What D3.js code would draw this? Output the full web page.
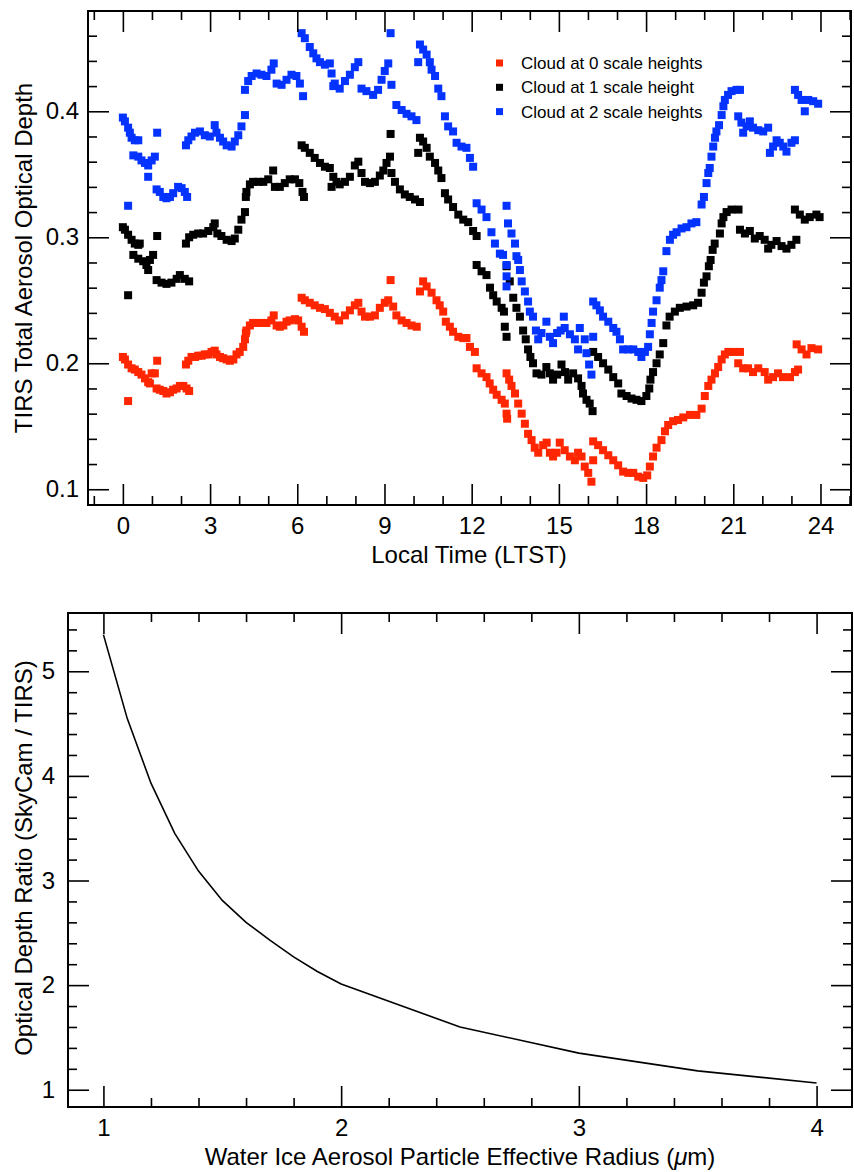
<!DOCTYPE html>
<html>
<head>
<meta charset="utf-8">
<script src="https://cdn.jsdelivr.net/npm/d3@7"></script>
<style>
  body { margin: 0; background: #fff; }
  svg { display: block; font-family: "Liberation Sans", Arial, Helvetica, sans-serif; }
</style>
</head>
<body>
<svg id="chart" width="854" height="1172"></svg>
<script>
// [local time (h), TIRS optical depth]
const cloud0 = [
  [0.00,0.205],[0.07,0.203],[0.18,0.199],[0.18,0.170],[0.30,0.196],[0.41,0.195],[0.53,0.193],[0.64,0.191],
  [0.76,0.188],[0.87,0.185],[0.93,0.184],[0.99,0.192],[1.10,0.192],[1.18,0.202],[1.16,0.180],[1.27,0.179],
  [1.39,0.178],[1.50,0.176],[1.62,0.177],[1.73,0.179],[1.85,0.180],[1.96,0.182],[2.08,0.182],[2.19,0.180],
  [2.28,0.178],
  [2.17,0.199],[2.25,0.202],[2.36,0.205],[2.48,0.205],[2.59,0.206],[2.71,0.206],[2.82,0.207],[2.94,0.207],
  [3.05,0.209],[3.16,0.210],[3.22,0.207],[3.34,0.205],[3.45,0.204],[3.57,0.203],[3.68,0.202],[3.80,0.203],
  [3.91,0.207],[4.02,0.209],[4.14,0.213],[4.20,0.219],[4.23,0.224],[4.25,0.226],[4.37,0.230],[4.48,0.232],
  [4.60,0.232],[4.77,0.232],[4.94,0.232],[5.11,0.234],[5.19,0.238],[5.29,0.230],[5.40,0.229],[5.52,0.230],
  [5.63,0.233],[5.74,0.234],[5.92,0.235],[6.03,0.234],[6.15,0.229],[6.23,0.225],
  [6.15,0.252],[6.26,0.250],[6.43,0.248],[6.60,0.246],[6.78,0.244],[6.95,0.243],[7.12,0.240],[7.29,0.237],
  [7.44,0.234],[7.64,0.238],[7.81,0.242],[7.98,0.246],[8.10,0.248],[8.21,0.241],[8.33,0.237],[8.50,0.237],
  [8.67,0.238],[8.84,0.244],[9.01,0.248],[9.13,0.250],[9.21,0.266],[9.30,0.245],[9.41,0.238],[9.59,0.234],
  [9.76,0.232],[9.93,0.230],[10.11,0.229],
  [10.22,0.257],[10.33,0.265],[10.45,0.261],[10.62,0.256],[10.79,0.250],[10.90,0.246],[11.02,0.241],[11.11,0.233],
  [11.25,0.229],[11.36,0.225],[11.54,0.221],[11.71,0.220],[11.82,0.220],[11.94,0.213],[12.11,0.209],
  [12.17,0.196],[12.34,0.192],[12.51,0.189],[12.62,0.184],[12.74,0.179],[12.86,0.175],[13.03,0.171],[13.14,0.168],
  [13.20,0.160],[13.22,0.156],
  [13.20,0.192],[13.29,0.187],[13.37,0.182],[13.49,0.176],[13.60,0.168],[13.72,0.160],[13.83,0.152],[13.94,0.144],
  [14.06,0.139],[14.17,0.133],[14.29,0.129],[14.46,0.135],[14.58,0.137],[14.69,0.129],[14.80,0.126],[14.92,0.129],
  [15.03,0.137],[15.20,0.131],[15.38,0.126],[15.55,0.123],[15.66,0.129],[15.78,0.126],[15.89,0.118],[16.01,0.113],
  [16.12,0.106],[16.18,0.123],
  [16.18,0.138],[16.35,0.135],[16.52,0.131],[16.70,0.127],[16.87,0.123],[17.04,0.119],[17.21,0.114],[17.39,0.113],
  [17.56,0.113],[17.73,0.110],[17.90,0.109],[18.04,0.111],[18.13,0.118],[18.24,0.126],[18.36,0.133],[18.53,0.139],
  [18.65,0.146],[18.76,0.151],[18.93,0.154],[19.10,0.155],[19.28,0.157],[19.51,0.159],[19.73,0.159],[19.91,0.164],
  [20.02,0.174],[20.14,0.182],[20.25,0.187],[20.37,0.192],[20.48,0.197],[20.60,0.203],[20.71,0.207],[20.83,0.209],
  [21.00,0.209],[21.23,0.209],
  [21.17,0.200],[21.34,0.196],[21.51,0.196],[21.68,0.193],[21.86,0.196],[22.08,0.193],[22.20,0.187],[22.37,0.189],
  [22.54,0.192],[22.71,0.189],[22.95,0.189],[23.12,0.193],[23.23,0.195],
  [23.18,0.215],[23.35,0.211],[23.52,0.207],[23.69,0.212],[23.92,0.211]
];
const cloud1 = [
  [0.00,0.308],[0.07,0.306],[0.18,0.302],[0.18,0.254],[0.30,0.298],[0.41,0.295],[0.53,0.294],[0.58,0.295],
  [0.36,0.286],[0.53,0.283],[0.70,0.281],[0.81,0.278],[0.87,0.274],[0.93,0.282],[1.04,0.286],[1.18,0.301],
  [1.16,0.266],[1.33,0.264],[1.50,0.263],[1.67,0.264],[1.85,0.267],[1.96,0.270],[2.13,0.267],[2.28,0.265],
  [2.17,0.295],[2.28,0.300],[2.42,0.302],[2.59,0.303],[2.76,0.303],[2.94,0.305],[3.11,0.308],[3.16,0.311],
  [3.25,0.303],[3.39,0.301],[3.57,0.298],[3.74,0.297],[3.85,0.299],[3.97,0.306],[4.08,0.314],[4.20,0.320],
  [4.23,0.332],[4.25,0.336],[4.37,0.342],[4.48,0.344],[4.66,0.344],[4.83,0.344],[5.00,0.346],[5.17,0.353],
  [5.23,0.340],[5.40,0.340],[5.57,0.343],[5.74,0.346],[5.92,0.346],[6.07,0.343],[6.18,0.336],[6.23,0.332],
  [6.15,0.373],[6.26,0.371],[6.43,0.367],[6.60,0.363],[6.78,0.359],[6.95,0.356],[7.12,0.355],[7.18,0.340],
  [7.24,0.348],[7.35,0.344],[7.46,0.342],[7.64,0.344],[7.81,0.348],[7.98,0.357],[8.10,0.360],[8.21,0.351],
  [8.33,0.344],[8.50,0.343],[8.67,0.344],[8.84,0.349],[8.96,0.353],[9.07,0.359],[9.19,0.364],[9.21,0.382],
  [9.24,0.351],[9.36,0.344],[9.53,0.338],[9.70,0.334],[9.87,0.332],[10.05,0.330],[10.22,0.328],
  [10.16,0.367],[10.22,0.379],[10.33,0.376],[10.45,0.371],[10.56,0.364],[10.74,0.359],[10.85,0.353],[10.96,0.347],
  [11.08,0.335],[11.19,0.330],[11.36,0.324],[11.54,0.318],[11.71,0.314],[11.88,0.312],[12.05,0.305],[12.17,0.301],
  [12.17,0.278],[12.34,0.273],[12.51,0.270],[12.63,0.260],[12.74,0.254],[12.86,0.249],[13.03,0.244],[13.11,0.241],
  [13.14,0.229],[13.20,0.221],
  [13.20,0.277],[13.31,0.265],[13.43,0.252],[13.54,0.244],[13.66,0.237],[13.77,0.226],[13.86,0.219],[13.94,0.211],
  [14.02,0.205],[14.11,0.200],[14.23,0.192],[14.40,0.191],[14.57,0.197],[14.69,0.192],[14.80,0.187],[14.94,0.191],
  [15.09,0.199],[15.21,0.193],[15.32,0.187],[15.49,0.192],[15.66,0.188],[15.78,0.182],[15.83,0.176],[15.95,0.171],
  [16.06,0.168],[16.16,0.162],
  [16.18,0.209],[16.35,0.205],[16.52,0.200],[16.70,0.195],[16.87,0.189],[17.04,0.184],[17.15,0.176],[17.33,0.174],
  [17.50,0.172],[17.67,0.171],[17.84,0.170],[18.01,0.174],[18.11,0.180],[18.15,0.187],[18.24,0.193],[18.36,0.200],
  [18.47,0.207],[18.59,0.216],[18.70,0.230],[18.81,0.237],[18.99,0.241],[19.16,0.244],[19.39,0.245],[19.62,0.246],
  [19.79,0.248],[19.91,0.256],[19.99,0.264],[20.08,0.269],[20.16,0.277],[20.22,0.282],[20.29,0.290],[20.36,0.295],
  [20.54,0.303],[20.60,0.311],[20.66,0.316],[20.77,0.320],[20.94,0.322],[21.18,0.322],
  [21.23,0.306],[21.40,0.303],[21.57,0.305],[21.74,0.299],[21.91,0.301],[22.08,0.298],[22.20,0.291],[22.31,0.294],
  [22.49,0.297],[22.66,0.293],[22.83,0.291],[23.00,0.294],[23.17,0.298],
  [23.12,0.322],[23.29,0.318],[23.46,0.314],[23.63,0.316],[23.86,0.318],[23.97,0.316]
];
const cloud2 = [
  [0.00,0.395],[0.07,0.392],[0.18,0.387],[0.24,0.383],[0.30,0.379],[0.41,0.377],[0.53,0.377],[0.18,0.325],
  [0.36,0.365],[0.53,0.364],[0.64,0.361],[0.76,0.359],[0.87,0.357],[0.99,0.361],[1.10,0.364],[0.87,0.348],
  [1.18,0.383],[1.16,0.338],[1.27,0.336],[1.39,0.332],[1.50,0.331],[1.62,0.332],[1.73,0.335],[1.90,0.340],
  [2.02,0.339],[2.13,0.336],[2.21,0.332],
  [2.17,0.373],[2.25,0.377],[2.36,0.380],[2.48,0.383],[2.65,0.384],[2.82,0.381],[2.99,0.380],[3.16,0.389],
  [3.22,0.383],[3.34,0.379],[3.45,0.376],[3.57,0.373],[3.74,0.372],[3.85,0.376],[3.97,0.381],[4.08,0.388],
  [4.20,0.397],[4.20,0.417],[4.31,0.424],[4.43,0.428],[4.60,0.430],[4.77,0.429],[4.94,0.428],[5.11,0.433],
  [5.19,0.438],[5.29,0.422],[5.46,0.421],[5.63,0.425],[5.80,0.429],[5.97,0.428],[6.09,0.422],[6.20,0.412],
  [6.15,0.462],[6.26,0.458],[6.43,0.451],[6.55,0.446],[6.66,0.442],[6.78,0.439],[6.95,0.437],[7.12,0.438],
  [7.18,0.430],[7.24,0.420],[7.29,0.422],[7.46,0.418],[7.64,0.424],[7.81,0.429],[7.98,0.435],[8.10,0.439],
  [8.21,0.418],[8.38,0.416],[8.61,0.413],[8.78,0.417],[8.90,0.425],[9.01,0.432],[9.13,0.438],[9.21,0.462],
  [9.24,0.421],[9.41,0.405],[9.59,0.401],[9.76,0.398],[9.93,0.396],[10.10,0.393],
  [10.16,0.439],[10.22,0.453],[10.33,0.449],[10.45,0.445],[10.56,0.439],[10.62,0.433],[10.74,0.428],[10.85,0.418],
  [10.96,0.412],[11.08,0.396],[11.19,0.388],[11.36,0.384],[11.48,0.375],[11.65,0.372],[11.82,0.371],[11.94,0.363],
  [12.05,0.356],
  [12.17,0.327],[12.34,0.322],[12.51,0.316],[12.68,0.304],[12.80,0.295],[12.97,0.287],[13.08,0.286],[13.20,0.278],
  [13.20,0.269],[13.20,0.261],
  [13.20,0.325],[13.25,0.311],[13.37,0.303],[13.49,0.295],[13.54,0.285],[13.60,0.282],[13.66,0.274],[13.72,0.265],
  [13.83,0.257],[13.94,0.249],[14.00,0.241],[14.11,0.237],[14.21,0.226],[14.29,0.219],[14.40,0.224],[14.57,0.233],
  [14.69,0.221],[14.80,0.216],[14.94,0.224],[15.06,0.226],[15.17,0.237],[15.20,0.228],[15.38,0.223],[15.55,0.219],
  [15.66,0.211],[15.72,0.228],[15.89,0.219],[15.95,0.208],[16.04,0.199],[16.12,0.191],[16.18,0.221],
  [16.18,0.249],[16.29,0.246],[16.41,0.242],[16.52,0.237],[16.70,0.233],[16.87,0.228],[16.98,0.225],[17.10,0.219],
  [17.21,0.211],[17.39,0.211],[17.56,0.211],[17.73,0.209],[17.84,0.205],[17.96,0.209],[18.07,0.213],[18.13,0.223],
  [18.19,0.232],[18.24,0.241],[18.36,0.250],[18.47,0.260],[18.53,0.266],[18.59,0.273],[18.70,0.289],[18.82,0.298],
  [18.93,0.302],[19.05,0.304],[19.22,0.307],[19.39,0.308],[19.56,0.311],[19.73,0.312],[19.91,0.326],[19.99,0.332],
  [20.08,0.343],[20.14,0.351],[20.19,0.355],[20.25,0.364],[20.31,0.372],[20.37,0.379],[20.42,0.384],[20.51,0.389],
  [20.60,0.397],[20.66,0.404],[20.71,0.409],[20.82,0.413],[20.94,0.416],[21.11,0.417],[21.23,0.417],
  [21.17,0.396],[21.28,0.391],[21.34,0.383],[21.46,0.388],[21.57,0.392],[21.68,0.387],[21.86,0.385],[22.03,0.384],
  [22.20,0.387],[22.26,0.367],[22.37,0.372],[22.49,0.377],[22.60,0.375],[22.72,0.372],[22.83,0.368],[23.00,0.375],
  [23.12,0.377],
  [23.12,0.417],[23.23,0.413],[23.35,0.409],[23.46,0.400],[23.58,0.409],[23.75,0.408],[23.92,0.406]
];

const seriesNames = ['Cloud at 0 scale heights', 'Cloud at 1 scale height', 'Cloud at 2 scale heights'];
const seriesColors = ['#ff2600', '#000000', '#0433ff'];

const timeTicks = [0, 3, 6, 9, 12, 15, 18, 21, 24];
const depthTicks = [0.1, 0.2, 0.3, 0.4];

// effective radius (um) vs SkyCam/TIRS optical depth ratio
const radius = [1.0, 1.1, 1.2, 1.3, 1.4, 1.5, 1.6, 1.7, 1.8, 1.9, 2.0, 2.5, 3.0, 3.5, 4.0];
const ratio = [5.35, 4.55, 3.93, 3.45, 3.09, 2.81, 2.60, 2.43, 2.27, 2.13, 2.01, 1.60, 1.35, 1.18, 1.065];
const radiusTicks = [1, 2, 3, 4];
const ratioTicks = [1, 2, 3, 4, 5];

const svg = d3.select('#chart');
const majorLen = 21;
const minorLen = 9;
const tickFont = 24;

function frameAxes(g, x, y, o) {
    const [x0, x1] = x.range();
    const [y0, y1] = y.range();

    const axes = [
        { axis: d3.axisBottom(x), at: [0, y0], vals: o.xMajor, len: majorLen, fmt: o.xFmt, pad: o.xPad },
        { axis: d3.axisBottom(x), at: [0, y0], vals: o.xMinor, len: minorLen },
        { axis: d3.axisTop(x), at: [0, y1], vals: o.xMajor, len: majorLen },
        { axis: d3.axisTop(x), at: [0, y1], vals: o.xMinor, len: minorLen },
        { axis: d3.axisLeft(y), at: [x0, 0], vals: o.yMajor, len: majorLen, fmt: o.yFmt, pad: o.yPad },
        { axis: d3.axisLeft(y), at: [x0, 0], vals: o.yMinor, len: minorLen },
        { axis: d3.axisRight(y), at: [x1, 0], vals: o.yMajor, len: majorLen },
        { axis: d3.axisRight(y), at: [x1, 0], vals: o.yMinor, len: minorLen }
    ];

    axes.forEach(a => {
        a.axis.tickValues(a.vals).tickSizeInner(-a.len).tickSizeOuter(0)
            .tickPadding(a.fmt ? a.pad : 0)
            .tickFormat(a.fmt || '');
        const ga = g.append('g')
            .attr('transform', 'translate(' + a.at[0] + ',' + a.at[1] + ')')
            .call(a.axis);
        ga.select('.domain').remove();
        ga.selectAll('line').attr('stroke', '#000').attr('stroke-width', 1.6);
        ga.selectAll('text').attr('fill', '#000').attr('font-size', tickFont);
    });

    g.append('rect')
        .attr('x', x0).attr('y', y1)
        .attr('width', x1 - x0).attr('height', y0 - y1)
        .attr('fill', 'none').attr('stroke', '#000').attr('stroke-width', 2);
}

// ---- top panel: TIRS optical depth vs local time
const xTime = d3.scaleLinear().domain([-1.2, 25.05]).range([88, 851]);
const yDepth = d3.scaleLinear().domain([0.0875, 0.4796]).range([505, 11]);

const gTop = svg.append('g');
const markSize = 8;
[cloud0, cloud1, cloud2].forEach((data, i) => {
    gTop.append('g').selectAll('rect')
        .data(data)
        .enter()
        .append('rect')
        .attr('x', d => xTime(d[0]) - markSize / 2)
        .attr('y', d => yDepth(d[1]) - markSize / 2)
        .attr('width', markSize)
        .attr('height', markSize)
        .attr('fill', seriesColors[i]);
});

frameAxes(gTop, xTime, yDepth, {
    xMajor: timeTicks,
    xMinor: d3.range(-1, 26).filter(h => h % 3 !== 0),
    yMajor: depthTicks,
    yMinor: d3.range(0.12, 0.47, 0.02).filter(v => Math.abs(v * 10 - Math.round(v * 10)) > 0.01),
    xFmt: d3.format('d'),
    yFmt: d3.format('.1f'),
    xPad: 12,
    yPad: 9
});

const legend = gTop.append('g').attr('transform', 'translate(496,63)');
seriesNames.forEach((name, i) => {
    const row = legend.append('g').attr('transform', 'translate(0,' + (i * 24.3) + ')');
    row.append('rect')
        .attr('x', 0).attr('y', -3.5)
        .attr('width', 7).attr('height', 7)
        .attr('fill', seriesColors[i]);
    row.append('text')
        .attr('x', 25).attr('y', 6)
        .attr('font-size', 17)
        .text(name);
});

svg.append('text')
    .attr('x', 469).attr('y', 563)
    .attr('text-anchor', 'middle')
    .attr('font-size', 24)
    .text('Local Time (LTST)');

svg.append('text')
    .attr('transform', 'translate(32,258) rotate(-90)')
    .attr('text-anchor', 'middle')
    .attr('font-size', 24)
    .text('TIRS Total Aerosol Optical Depth');

// ---- bottom panel: optical depth ratio vs particle radius
const xRad = d3.scaleLinear().domain([0.851, 4.149]).range([68, 852]);
const yRatio = d3.scaleLinear().domain([0.835, 5.557]).range([1107, 613]);

const gBot = svg.append('g');
gBot.append('path')
    .datum(radius.map((r, i) => [r, ratio[i]]))
    .attr('fill', 'none')
    .attr('stroke', '#000')
    .attr('stroke-width', 1.6)
    .attr('d', d3.line().x(d => xRad(d[0])).y(d => yRatio(d[1])));

frameAxes(gBot, xRad, yRatio, {
    xMajor: radiusTicks,
    xMinor: d3.range(1.2, 4.0, 0.2).filter(v => Math.abs(v - Math.round(v)) > 0.01),
    yMajor: ratioTicks,
    yMinor: d3.range(1.2, 5.5, 0.2).filter(v => Math.abs(v - Math.round(v)) > 0.01),
    xFmt: d3.format('d'),
    yFmt: d3.format('d'),
    xPad: 12,
    yPad: 13
});

const xLab = svg.append('text')
    .attr('x', 460).attr('y', 1165)
    .attr('text-anchor', 'middle')
    .attr('font-size', 24);
xLab.append('tspan').text('Water Ice Aerosol Particle Effective Radius (');
xLab.append('tspan').attr('font-style', 'italic').text('\u03bc');
xLab.append('tspan').text('m)');

svg.append('text')
    .attr('transform', 'translate(32,858) rotate(-90)')
    .attr('text-anchor', 'middle')
    .attr('font-size', 24)
    .text('Optical Depth Ratio (SkyCam / TIRS)');
</script>
</body>
</html>
